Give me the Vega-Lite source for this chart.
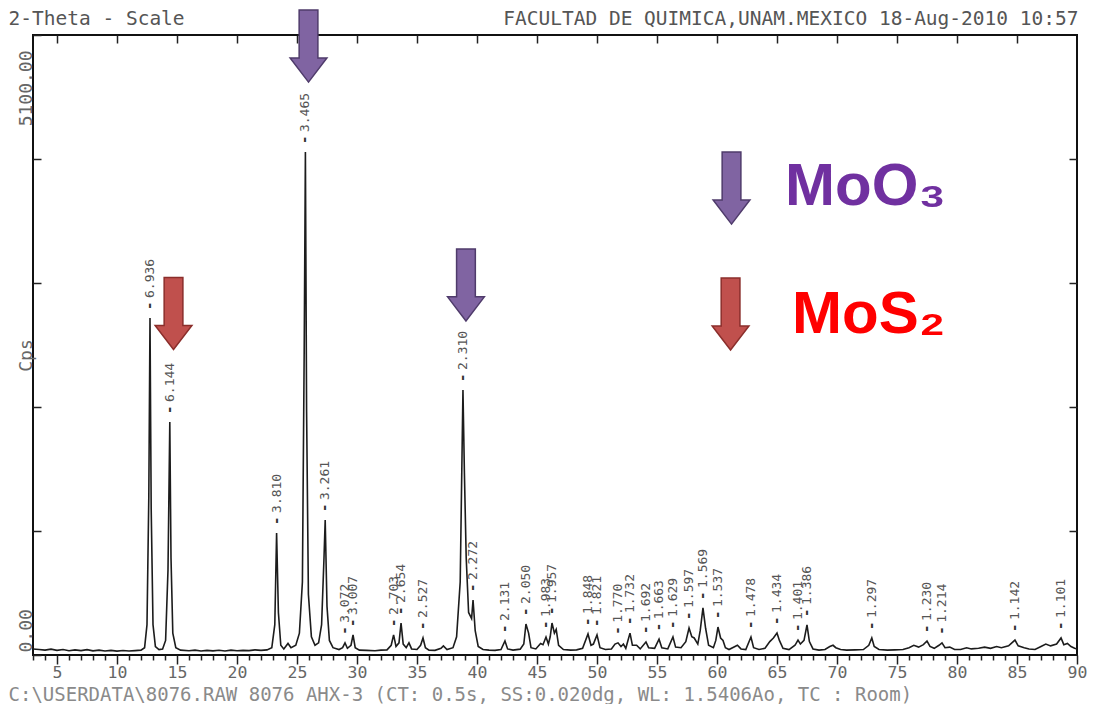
{
  "$schema": "https://vega.github.io/schema/vega-lite/v6.json",
  "width": 1044,
  "height": 620,
  "autosize": {"type": "none"},
  "padding": {"left": 33, "top": 35, "right": 16, "bottom": 49},
  "background": "white",
  "config": {
    "view": {"stroke": "#111", "strokeWidth": 2},
    "axis": {"grid": false, "domain": false}
  },
  "datasets": {
    "profile": [
      {"t":3.0,"c":50},{"t":3.5,"c":45},{"t":4.0,"c":40},{"t":4.5,"c":48},{"t":5.0,"c":38},{"t":5.5,"c":45},{"t":6.0,"c":35},{"t":6.5,"c":42},{"t":7.0,"c":36},{"t":7.5,"c":44},{"t":8.0,"c":34},{"t":8.5,"c":40},{"t":9.0,"c":33},{"t":9.5,"c":38},{"t":10.0,"c":32},{"t":10.5,"c":37},{"t":11.0,"c":33},{"t":11.5,"c":36},{"t":12.0,"c":40},
      {"t":12.3,"c":60},{"t":12.5,"c":250},{"t":12.65,"c":1300},{"t":12.75,"c":2772},{"t":12.85,"c":1200},{"t":13.0,"c":250},{"t":13.2,"c":70},{"t":13.5,"c":45},{"t":13.8,"c":50},
      {"t":14.05,"c":120},{"t":14.25,"c":700},{"t":14.4,"c":1917},{"t":14.5,"c":800},{"t":14.65,"c":180},{"t":14.9,"c":60},{"t":15.3,"c":40},
      {"t":16.0,"c":35},{"t":16.5,"c":40},{"t":17.0,"c":33},{"t":17.5,"c":38},{"t":18.0,"c":34},{"t":18.5,"c":39},{"t":19.0,"c":33},{"t":19.5,"c":40},{"t":20.0,"c":35},{"t":20.5,"c":38},{"t":21.0,"c":36},{"t":21.5,"c":42},{"t":22.0,"c":38},{"t":22.5,"c":42},
      {"t":22.9,"c":60},{"t":23.15,"c":250},{"t":23.3,"c":1004},{"t":23.45,"c":350},{"t":23.65,"c":80},{"t":23.9,"c":50},{"t":24.25,"c":95},{"t":24.5,"c":60},{"t":24.9,"c":80},
      {"t":25.2,"c":180},{"t":25.45,"c":600},{"t":25.6,"c":2500},{"t":25.7,"c":4137},{"t":25.8,"c":2000},{"t":25.95,"c":500},{"t":26.2,"c":150},{"t":26.5,"c":80},{"t":26.8,"c":100},
      {"t":27.05,"c":250},{"t":27.25,"c":800},{"t":27.35,"c":1110},{"t":27.5,"c":400},{"t":27.7,"c":120},{"t":28.0,"c":60},{"t":28.5,"c":45},{"t":28.8,"c":60},
      {"t":29.0,"c":100},{"t":29.2,"c":55},{"t":29.5,"c":80},{"t":29.67,"c":165},{"t":29.85,"c":60},{"t":30.2,"c":40},{"t":30.8,"c":38},{"t":31.5,"c":35},{"t":32.0,"c":40},{"t":32.5,"c":42},
      {"t":32.85,"c":80},{"t":33.05,"c":165},{"t":33.25,"c":70},{"t":33.5,"c":100},{"t":33.67,"c":263},{"t":33.85,"c":90},{"t":34.1,"c":60},{"t":34.33,"c":100},{"t":34.55,"c":50},
      {"t":35.0,"c":45},{"t":35.3,"c":80},{"t":35.5,"c":140},{"t":35.7,"c":60},{"t":36.0,"c":40},{"t":36.5,"c":38},{"t":37.0,"c":55},{"t":37.2,"c":75},{"t":37.5,"c":45},
      {"t":38.0,"c":60},{"t":38.3,"c":150},{"t":38.6,"c":600},{"t":38.83,"c":2180},{"t":38.95,"c":1500},{"t":39.1,"c":800},{"t":39.3,"c":350},{"t":39.55,"c":300},{"t":39.67,"c":452},{"t":39.85,"c":200},{"t":40.1,"c":70},
      {"t":40.5,"c":45},{"t":41.0,"c":40},{"t":41.5,"c":38},{"t":42.0,"c":45},{"t":42.33,"c":115},{"t":42.55,"c":50},{"t":43.0,"c":40},{"t":43.6,"c":48},
      {"t":43.9,"c":90},{"t":44.08,"c":255},{"t":44.3,"c":180},{"t":44.5,"c":60},{"t":44.9,"c":50},{"t":45.3,"c":95},{"t":45.5,"c":85},{"t":45.75,"c":148},{"t":45.95,"c":90},
      {"t":46.1,"c":150},{"t":46.25,"c":263},{"t":46.45,"c":180},{"t":46.6,"c":210},{"t":46.8,"c":80},{"t":47.2,"c":45},{"t":47.8,"c":40},{"t":48.3,"c":42},{"t":48.8,"c":55},
      {"t":49.25,"c":173},{"t":49.5,"c":80},{"t":49.7,"c":90},{"t":50.0,"c":165},{"t":50.25,"c":60},{"t":50.7,"c":45},{"t":51.2,"c":50},{"t":51.5,"c":90},{"t":51.75,"c":100},{"t":52.0,"c":70},{"t":52.2,"c":90},{"t":52.4,"c":55},
      {"t":52.75,"c":180},{"t":52.95,"c":80},{"t":53.3,"c":80},{"t":53.6,"c":50},{"t":54.08,"c":107},{"t":54.3,"c":60},{"t":54.8,"c":55},{"t":55.17,"c":130},{"t":55.4,"c":60},{"t":55.9,"c":50},
      {"t":56.33,"c":148},{"t":56.55,"c":65},{"t":57.0,"c":60},{"t":57.4,"c":110},{"t":57.67,"c":222},{"t":57.9,"c":150},{"t":58.1,"c":140},{"t":58.4,"c":90},{"t":58.6,"c":200},{"t":58.83,"c":387},{"t":59.05,"c":220},{"t":59.3,"c":80},
      {"t":59.7,"c":60},{"t":59.9,"c":120},{"t":60.08,"c":230},{"t":60.3,"c":140},{"t":60.5,"c":120},{"t":60.7,"c":60},{"t":61.0,"c":45},{"t":61.5,"c":70},{"t":61.7,"c":80},{"t":62.0,"c":50},{"t":62.4,"c":45},
      {"t":62.83,"c":148},{"t":63.05,"c":60},{"t":63.5,"c":45},{"t":64.0,"c":55},{"t":64.4,"c":110},{"t":64.7,"c":140},{"t":65.0,"c":181},{"t":65.2,"c":120},{"t":65.5,"c":55},{"t":66.0,"c":45},
      {"t":66.5,"c":80},{"t":66.75,"c":123},{"t":66.95,"c":90},{"t":67.25,"c":120},{"t":67.5,"c":247},{"t":67.7,"c":110},{"t":68.0,"c":50},{"t":68.5,"c":40},{"t":69.0,"c":45},{"t":69.4,"c":70},{"t":69.67,"c":80},{"t":69.9,"c":60},
      {"t":70.3,"c":45},{"t":70.8,"c":40},{"t":71.5,"c":42},{"t":72.2,"c":45},{"t":72.65,"c":80},{"t":72.9,"c":140},{"t":73.1,"c":70},{"t":73.5,"c":45},{"t":74.2,"c":40},{"t":74.8,"c":42},{"t":75.5,"c":45},
      {"t":76.0,"c":60},{"t":76.4,"c":80},{"t":76.8,"c":65},{"t":77.2,"c":85},{"t":77.5,"c":115},{"t":77.75,"c":70},{"t":78.1,"c":55},{"t":78.5,"c":80},{"t":78.75,"c":100},{"t":79.0,"c":60},{"t":79.4,"c":65},{"t":79.8,"c":45},
      {"t":80.3,"c":45},{"t":80.8,"c":60},{"t":81.2,"c":50},{"t":81.8,"c":55},{"t":82.3,"c":65},{"t":82.8,"c":55},{"t":83.3,"c":70},{"t":83.7,"c":60},{"t":84.3,"c":75},{"t":84.83,"c":123},{"t":85.1,"c":75},{"t":85.6,"c":60},
      {"t":86.0,"c":50},{"t":86.5,"c":45},{"t":87.0,"c":70},{"t":87.4,"c":90},{"t":87.8,"c":75},{"t":88.3,"c":90},{"t":88.67,"c":140},{"t":88.9,"c":85},{"t":89.2,"c":95},{"t":89.5,"c":70},{"t":89.8,"c":55},{"t":90.0,"c":50}
    ],
    "peaks": [
      {"t":12.75,"c":2772,"d":"6.936"},{"t":14.4,"c":1917,"d":"6.144"},{"t":23.3,"c":1004,"d":"3.810"},{"t":25.7,"c":4137,"d":"3.465"},{"t":27.35,"c":1110,"d":"3.261"},
      {"t":29.0,"c":100,"d":"3.072"},{"t":29.67,"c":165,"d":"3.007"},{"t":33.05,"c":165,"d":"2.703"},{"t":33.67,"c":263,"d":"2.654"},{"t":35.5,"c":140,"d":"2.527"},
      {"t":38.83,"c":2180,"d":"2.310"},{"t":39.67,"c":452,"d":"2.272"},{"t":42.33,"c":115,"d":"2.131"},{"t":44.08,"c":255,"d":"2.050"},{"t":45.75,"c":148,"d":"1.983"},
      {"t":46.25,"c":263,"d":"1.957"},{"t":49.25,"c":173,"d":"1.848"},{"t":50.0,"c":165,"d":"1.821"},{"t":51.75,"c":100,"d":"1.770"},{"t":52.75,"c":180,"d":"1.732"},
      {"t":54.08,"c":107,"d":"1.692"},{"t":55.17,"c":130,"d":"1.663"},{"t":56.33,"c":148,"d":"1.629"},{"t":57.67,"c":222,"d":"1.597"},{"t":58.83,"c":387,"d":"1.569"},
      {"t":60.08,"c":230,"d":"1.537"},{"t":62.83,"c":148,"d":"1.478"},{"t":65.0,"c":181,"d":"1.434"},{"t":66.75,"c":123,"d":"1.401"},{"t":67.5,"c":247,"d":"1.386"},
      {"t":72.9,"c":140,"d":"1.297"},{"t":77.5,"c":115,"d":"1.230"},{"t":78.75,"c":100,"d":"1.214"},{"t":84.83,"c":123,"d":"1.142"},{"t":88.67,"c":140,"d":"1.101"}
    ],
    "arrows": [
      {"t":25.96,"c":5009,"kind":"MoO3"},
      {"t":39.08,"c":3044,"kind":"MoO3"},
      {"t":14.71,"c":2809,"kind":"MoS2"},
      {"t":61.21,"c":3841,"kind":"MoO3"},
      {"t":61.13,"c":2805,"kind":"MoS2"}
    ],
    "legend": [
      {"t":65.67,"c":3702,"kind":"MoO3","label":"MoO₃"},
      {"t":66.25,"c":2649,"kind":"MoS2","label":"MoS₂"}
    ]
  },
  "resolve": {"axis": {"x": "independent", "y": "independent"}},
  "layer": [
    {
      "data": {"name": "profile"},
      "mark": {"type": "line", "color": "#1c1c1c", "strokeWidth": 1.6},
      "encoding": {
        "x": {
          "field": "t", "type": "quantitative",
          "scale": {"domain": [3, 90], "nice": false, "zero": false},
          "axis": {
            "orient": "bottom",
            "values": [3,4,5,6,7,8,9,10,11,12,13,14,15,16,17,18,19,20,21,22,23,24,25,26,27,28,29,30,31,32,33,34,35,36,37,38,39,40,41,42,43,44,45,46,47,48,49,50,51,52,53,54,55,56,57,58,59,60,61,62,63,64,65,66,67,68,69,70,71,72,73,74,75,76,77,78,79,80,81,82,83,84,85,86,87,88,89,90],
            "labelExpr": "datum.value % 5 === 0 ? datum.label : ''",
            "tickSize": {"condition": {"test": "datum.value % 5 === 0", "value": 9}, "value": 5},
            "tickColor": "#222", "tickWidth": 1.5,
            "labelFont": "DejaVu Sans Mono", "labelFontSize": 16.5, "labelColor": "#666",
            "labelPadding": 0, "labelFlush": false, "labelOverlap": false,
            "title": "C:\\USERDATA\\8076.RAW 8076 AHX-3 (CT:  0.5s, SS:0.020dg, WL: 1.5406Ao, TC : Room)",
            "titleFont": "DejaVu Sans Mono", "titleFontSize": 19, "titleFontWeight": "normal", "titleColor": "#8a8a8a",
            "titleAlign": "left", "titleAnchor": "start", "titleX": -25, "titleY": 39, "titleBaseline": "middle"
          }
        },
        "y": {
          "field": "c", "type": "quantitative",
          "scale": {"domain": [0, 5100], "nice": false, "zero": false},
          "axis": {
            "orient": "left",
            "values": [0, 1020, 2040, 3060, 4080, 5100],
            "labelExpr": "datum.value === 0 || datum.value === 5100 ? format(datum.value, '.2f') : ''",
            "labelAngle": 270,
            "labelAlign": {"condition": {"test": "datum.value > 0", "value": "right"}, "value": "left"},
            "labelBaseline": "alphabetic",
            "labelOffset": {"condition": {"test": "datum.value > 0", "value": 15}, "value": -3},
            "labelPadding": 10, "tickSize": -8, "tickColor": "#222", "tickWidth": 1.5,
            "labelFont": "DejaVu Sans Mono", "labelFontSize": 18, "labelColor": "#666",
            "labelFlush": false, "labelOverlap": false,
            "title": "Cps", "titleFont": "DejaVu Sans Mono", "titleFontSize": 18, "titleFontWeight": "normal", "titleColor": "#666",
            "titleAngle": 270, "titleX": -2, "titleY": 320, "titleAlign": "center", "titleBaseline": "alphabetic"
          }
        }
      }
    },
    {
      "data": {"name": "peaks"},
      "mark": {"type": "text", "angle": 270, "align": "left", "baseline": "middle", "dx": 20, "font": "DejaVu Sans Mono", "fontSize": 13, "color": "#555"},
      "encoding": {
        "x": {
          "field": "t", "type": "quantitative",
          "axis": {
            "orient": "top", "values": [5,10,15,20,25,30,35,40,45,50,55,60,65,70,75,80,85],
            "labels": false, "tickSize": -8, "tickColor": "#222", "tickWidth": 1.5,
            "title": "FACULTAD DE QUIMICA,UNAM.MEXICO 18-Aug-2010 10:57",
            "titleFont": "DejaVu Sans Mono", "titleFontSize": 19.5, "titleFontWeight": "normal", "titleColor": "#555",
            "titleAlign": "right", "titleAnchor": "end", "titleX": 1045, "titleY": -17, "titleBaseline": "middle"
          }
        },
        "y": {
          "field": "c", "type": "quantitative",
          "axis": {
            "orient": "right", "values": [1020, 2040, 3060, 4080],
            "labels": false, "tickSize": -8, "tickColor": "#222", "tickWidth": 1.5,
            "title": "2-Theta - Scale",
            "titleFont": "DejaVu Sans Mono", "titleFontSize": 19.5, "titleFontWeight": "normal", "titleColor": "#555",
            "titleAngle": 0, "titleAlign": "left", "titleAnchor": "start", "titleX": -1069, "titleY": -17, "titleBaseline": "middle"
          }
        },
        "text": {"field": "d"}
      }
    },
    {
      "data": {"name": "peaks"},
      "mark": {"type": "text", "text": "-", "angle": 270, "align": "left", "baseline": "middle", "dx": 8, "font": "DejaVu Sans Mono", "fontSize": 14, "fontWeight": "bold", "color": "#333"},
      "encoding": {
        "x": {"field": "t", "type": "quantitative", "axis": null},
        "y": {"field": "c", "type": "quantitative", "axis": null}
      }
    },
    {
      "data": {"name": "arrows"},
      "mark": {"type": "point", "shape": "M-0.26,-1L0.26,-1L0.26,0.33L0.51,0.33L0,1L-0.51,0.33L-0.26,0.33Z", "size": 5200, "filled": true, "opacity": 1, "strokeWidth": 1.5},
      "encoding": {
        "x": {"field": "t", "type": "quantitative", "axis": null},
        "y": {"field": "c", "type": "quantitative", "axis": null},
        "fill": {"field": "kind", "type": "nominal", "scale": {"domain": ["MoO3", "MoS2"], "range": ["#8064a2", "#c0504d"]}, "legend": null},
        "stroke": {"field": "kind", "type": "nominal", "scale": {"domain": ["MoO3", "MoS2"], "range": ["#4f3b6b", "#8b2e2b"]}, "legend": null}
      }
    },
    {
      "data": {"name": "legend"},
      "mark": {"type": "text", "align": "left", "baseline": "alphabetic", "font": "Liberation Sans", "fontSize": 60, "fontWeight": "bold"},
      "encoding": {
        "x": {"field": "t", "type": "quantitative", "axis": null},
        "y": {"field": "c", "type": "quantitative", "axis": null},
        "text": {"field": "label"},
        "color": {"field": "kind", "type": "nominal", "scale": {"domain": ["MoO3", "MoS2"], "range": ["#7030a0", "#ff0000"]}, "legend": null}
      }
    }
  ]
}
